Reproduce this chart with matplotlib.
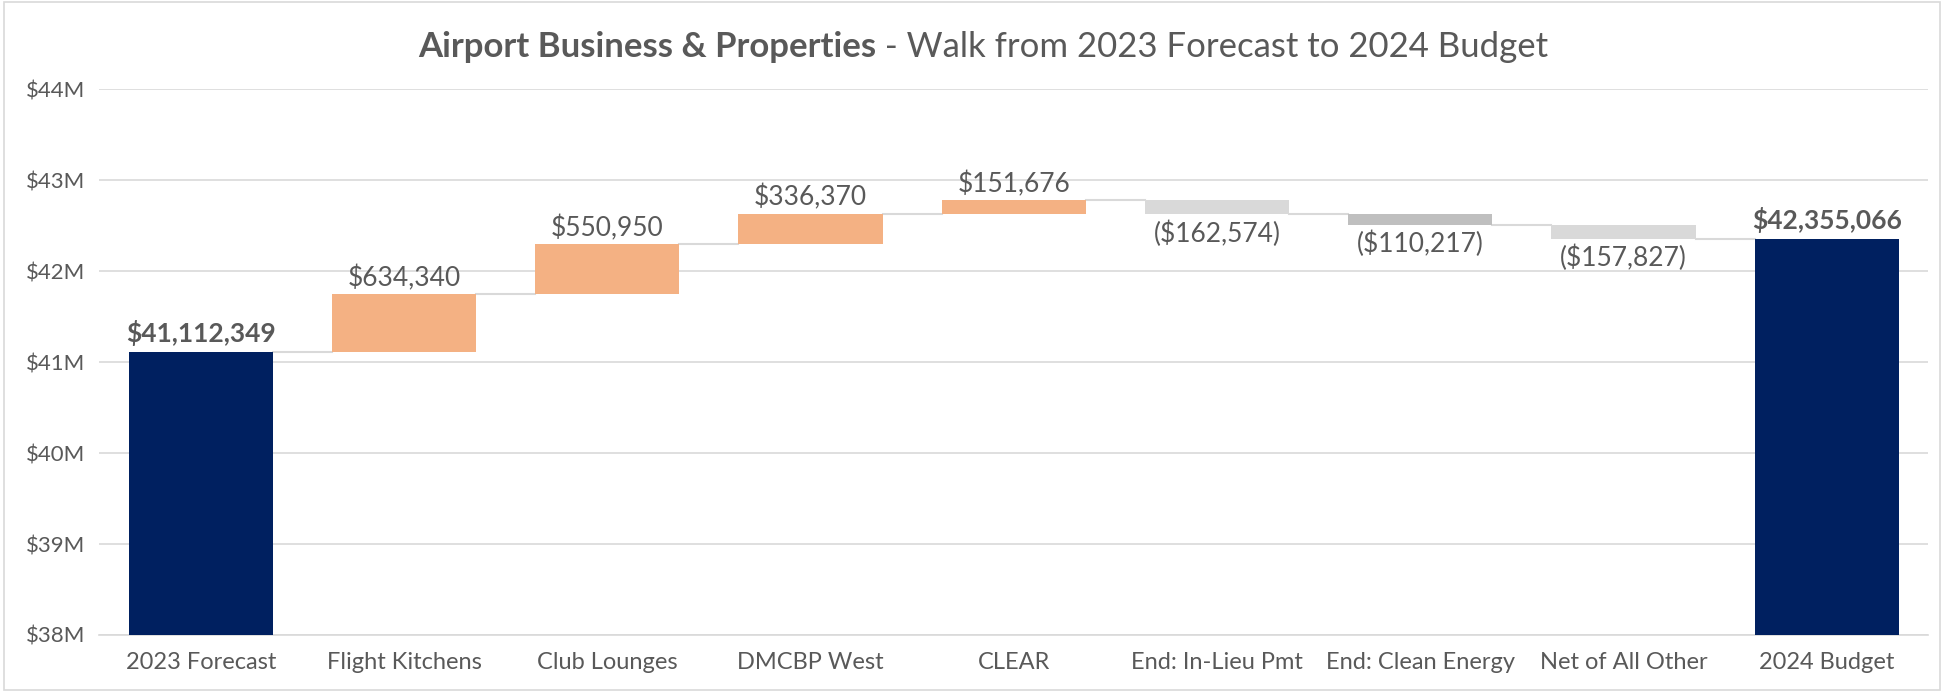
import matplotlib
matplotlib.use("Agg")
import matplotlib.pyplot as plt
from matplotlib.patches import Rectangle
import numpy as np

categories = ["2023 Forecast", "Flight Kitchens", "Club Lounges", "DMCBP West", "CLEAR",
              "End: In-Lieu Pmt", "End: Clean Energy", "Net of All Other", "2024 Budget"]
start_total = 41112349
deltas = [634340, 550950, 336370, 151676, -162574, -110217, -157827]
end_total = 42355066
bar_colors = ["#002060", "#F4B183", "#F4B183", "#F4B183", "#F4B183",
              "#D9D9D9", "#BFBFBF", "#D9D9D9", "#002060"]
yticks = [38e6, 39e6, 40e6, 41e6, 42e6, 43e6, 44e6]
ytick_labels = ["$38M", "$39M", "$40M", "$41M", "$42M", "$43M", "$44M"]

plt.rcParams['font.family'] = ['Lato', 'DejaVu Sans']
txt = "#595959"

fig = plt.figure(figsize=(19.44, 6.92), dpi=100)
ax = fig.add_axes([0.051, 0.0824, 0.941, 0.7886])
base = 38e6
ax.set_ylim(38e6, 44e6)
ax.set_xlim(-0.5, len(categories) - 0.5)
bw = 0.71

x = np.arange(len(categories))
bottoms, heights = [], []
bottoms.append(base); heights.append(start_total - base)
run = start_total
levels = [start_total]
for d in deltas:
    if d >= 0:
        bottoms.append(run); heights.append(d)
    else:
        bottoms.append(run + d); heights.append(-d)
    run += d
    levels.append(run)
bottoms.append(base); heights.append(end_total - base)

ax.bar(x, heights, bottom=bottoms, width=bw, color=bar_colors, zorder=3)

# connectors
for i in range(len(categories) - 1):
    lvl = levels[i]
    ax.plot([x[i] + bw / 2, x[i + 1] - bw / 2], [lvl, lvl], color="#D9D9D9", lw=1.5, zorder=2)

# labels
ax.annotate(f"${start_total:,.0f}", (x[0], start_total), xytext=(0, 4), textcoords="offset points",
            ha="center", va="bottom", fontsize=19, fontweight="bold", color=txt)
ax.annotate(f"${end_total:,.0f}", (x[-1], end_total), xytext=(0, 4), textcoords="offset points",
            ha="center", va="bottom", fontsize=19, fontweight="bold", color=txt)
for i, d in enumerate(deltas):
    xi = x[i + 1]
    if d >= 0:
        ax.annotate(f"${d:,.0f}", (xi, bottoms[i + 1] + heights[i + 1]), xytext=(0, 2),
                    textcoords="offset points", ha="center", va="bottom", fontsize=19, color=txt)
    else:
        ax.annotate(f"(${-d:,.0f})", (xi, bottoms[i + 1]), xytext=(0, -4),
                    textcoords="offset points", ha="center", va="top", fontsize=19, color=txt)

ax.set_yticks(yticks)
ax.set_yticklabels(ytick_labels, fontsize=16, color=txt)
ax.set_xticks(x)
ax.set_xticklabels(categories, fontsize=17, color=txt)
ax.tick_params(axis="both", length=0)
ax.tick_params(axis="y", pad=10)
ax.tick_params(axis="x", pad=12)
ax.grid(axis="y", color="#D9D9D9", lw=1.2, zorder=0)
for s in ["left", "right", "top"]:
    ax.spines[s].set_visible(False)
ax.spines["bottom"].set_color("#D9D9D9")
ax.spines["bottom"].set_linewidth(1.2)

# figure border
fig.patches.append(Rectangle((0.002, 0.003), 0.996, 0.994, transform=fig.transFigure,
                             fill=False, edgecolor="#D9D9D9", lw=1.2))

# title in two parts
fig.canvas.draw()
r = fig.canvas.get_renderer()
t1 = fig.text(0, 0.932, "Airport Business & Properties", fontsize=25, fontweight="bold",
              color=txt, ha="left", va="center")
t2 = fig.text(0, 0.932, " - Walk from 2023 Forecast to 2024 Budget", fontsize=25,
              color=txt, ha="left", va="center")
w1 = t1.get_window_extent(r).width
w2 = t2.get_window_extent(r).width
W = fig.bbox.width
x0 = (983 - (w1 + w2) / 2)
t1.set_x(x0 / W)
t2.set_x((x0 + w1) / W)

fig.savefig("out.png", dpi=100)
